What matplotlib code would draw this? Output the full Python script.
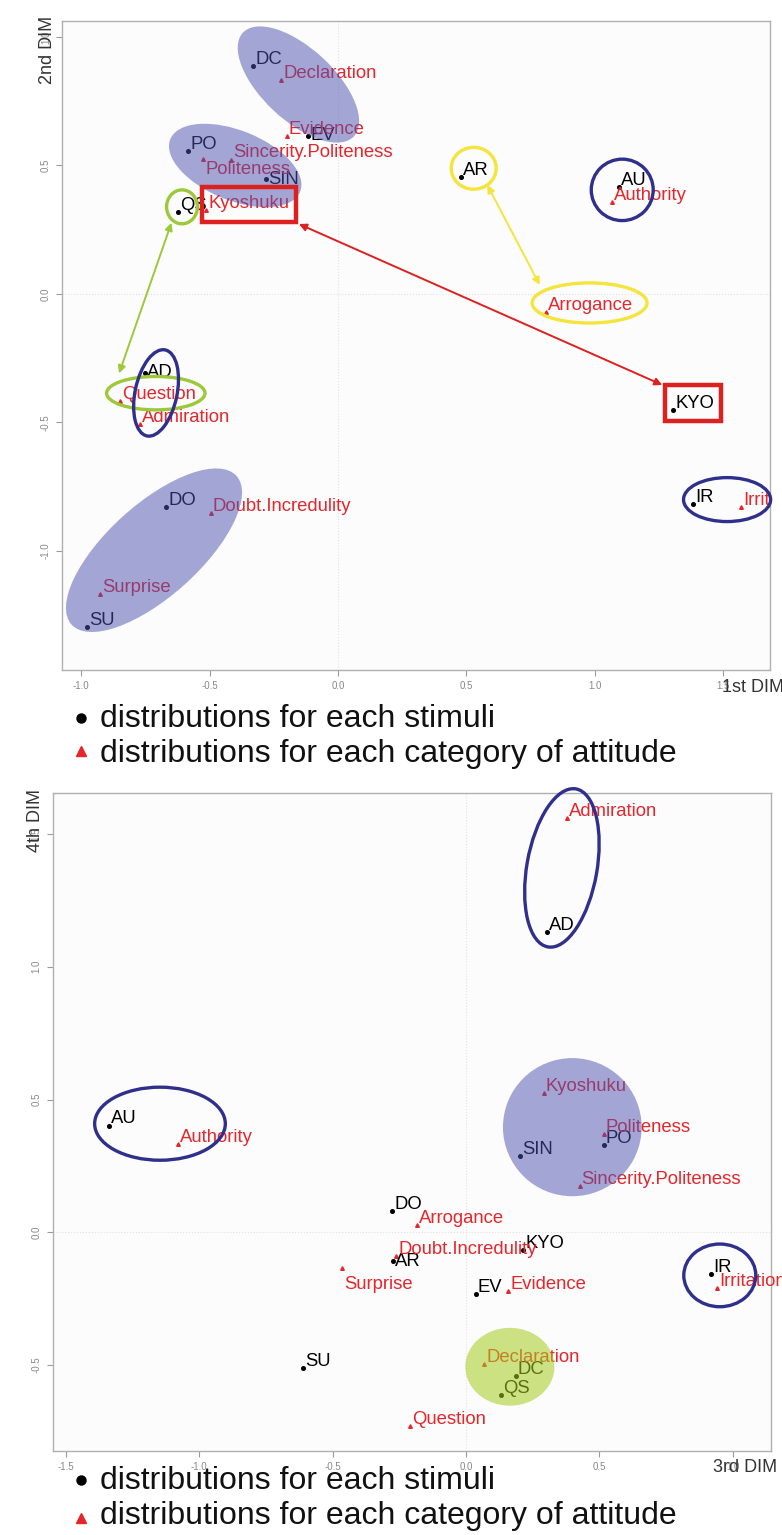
import numpy as np
import matplotlib
matplotlib.use("Agg")
import matplotlib.pyplot as plt
from matplotlib.patches import Ellipse, Rectangle
from matplotlib.lines import Line2D
from matplotlib.transforms import ScaledTranslation

plt.rcParams['font.family'] = ['Liberation Sans', 'DejaVu Sans']

# stimuli and attitude categories (same order in both panels)
stim_names = ['DC', 'EV', 'PO', 'SIN', 'QS', 'AR', 'AU', 'KYO', 'AD', 'DO', 'SU', 'IR']
att_names = ['Declaration', 'Evidence', 'Politeness', 'Sincerity.Politeness', 'Kyoshuku',
             'Authority', 'Arrogance', 'Question', 'Admiration', 'Doubt.Incredulity',
             'Surprise', 'Irritation']

# panel 1: 1st / 2nd dimension
stim_dim1 = [-0.330, -0.117, -0.582, -0.281, -0.623, 0.477, 1.093, 1.305, -0.751, -0.668, -0.975, 1.381]
stim_dim2 = [0.887, 0.615, 0.556, 0.446, 0.320, 0.454, 0.416, -0.451, -0.306, -0.830, -1.295, -0.817]
att_dim1 = [-0.221, -0.200, -0.525, -0.416, -0.512, 1.065, 0.808, -0.849, -0.770, -0.495, -0.926, 1.567]
att_dim2 = [0.833, 0.616, 0.524, 0.523, 0.327, 0.359, -0.069, -0.415, -0.507, -0.853, -1.167, -0.828]

# panel 2: 3rd / 4th dimension
stim_dim3 = [0.187, 0.037, 0.516, 0.202, 0.131, -0.272, -1.340, 0.216, 0.304, -0.276, -0.611, 0.919]
stim_dim4 = [-0.541, -0.233, 0.327, 0.289, -0.613, -0.109, 0.402, -0.068, 1.132, 0.080, -0.512, -0.158]
att_dim3 = [0.069, 0.159, 0.516, 0.426, 0.292, -1.078, -0.184, -0.210, 0.379, -0.262, -0.463, 0.943]
att_dim4 = [-0.496, -0.221, 0.371, 0.173, 0.524, 0.333, 0.026, -0.729, 1.559, -0.090, -0.133, -0.209]

ticks_top_x = [-1.0, -0.5, 0.0, 0.5, 1.0, 1.5]
ticks_top_y = [-1.0, -0.5, 0.0, 0.5, 1.0]
ticks_bot_x = [-1.5, -1.0, -0.5, 0.0, 0.5, 1.0]
ticks_bot_y = [-0.5, 0.0, 0.5, 1.0, 1.5]

RED = '#e5262b'
NAVY = '#2f2f8c'
LIME = '#9cc83a'
YELLOW = '#f4e43c'
BOXRED = '#dd2020'
FILL = (75 / 255, 81 / 255, 175 / 255, 0.5)
GFILL = (165 / 255, 205 / 255, 30 / 255, 0.55)


def base_axes(ax, xlim, ylim, xt, yt):
    ax.set_xlim(*xlim)
    ax.set_ylim(*ylim)
    ax.set_facecolor('#fcfcfc')
    ax.set_xticks(xt)
    ax.set_yticks(yt)
    ax.set_xticklabels(['%.1f' % t for t in xt])
    ax.set_yticklabels(['%.1f' % t for t in yt], rotation=90, va='center')
    ax.tick_params(direction='out', length=4, width=0.8, color='#999999',
                   labelsize=7, labelcolor='#888888', pad=4)
    for s in ax.spines.values():
        s.set_color('#b0b0b0')
        s.set_linewidth(1.0)
    ax.axhline(0, color='#e2e2e2', lw=0.8, ls=':', zorder=0)
    ax.axvline(0, color='#e2e2e2', lw=0.8, ls=':', zorder=0)


def draw_points(ax, sx, sy, tx, ty, valign, clip):
    ax.plot(sx, sy, 'o', color='black', ms=2.6, zorder=3)
    ax.plot(tx, ty, '^', color=RED, ms=2.6, zorder=3)
    labels = list(zip(stim_names, sx, sy, ['black'] * 12)) + \
        list(zip(att_names, tx, ty, [RED] * 12))
    for lab, x, y, c in labels:
        va = valign.get(lab, 'baseline')
        dy = {'baseline': 1.5, 'center': 0, 'top': -1.5}[va]
        if lab == 'Surprise' and va == 'top':
            dy = -6
        off = ScaledTranslation(1.5 / 72, dy / 72, fig.dpi_scale_trans)
        ax.text(x, y, lab, transform=ax.transData + off, ha='left', va=va,
                fontsize=13.3, color=c, zorder=3, clip_on=clip)


def ell(ax, c, w, h, ang=0, edge=None, face='none', lw=2.4):
    ax.add_patch(Ellipse(c, w, h, angle=ang, facecolor=face,
                         edgecolor=edge if edge else 'none', lw=lw, zorder=5,
                         clip_on=False))


def arrow(ax, a, b, col):
    ax.annotate('', xy=b, xytext=a,
                arrowprops=dict(arrowstyle='<|-|>', color=col, lw=1.4,
                                mutation_scale=11, shrinkA=0, shrinkB=0), zorder=6)


fig = plt.figure(figsize=(7.82, 15.35), dpi=100)
fig.patch.set_facecolor('white')

# ---------- top panel ----------
ax1 = fig.add_axes([62 / 782, 1 - 670 / 1535, 708 / 782, 649 / 1535])
base_axes(ax1, (-1.074, 1.681), (-1.463, 1.062), ticks_top_x, ticks_top_y)
draw_points(ax1, stim_dim1, stim_dim2, att_dim1, att_dim2,
            {'EV': 'center', 'SIN': 'center', 'Politeness': 'top', 'AD': 'center'}, True)

ell(ax1, (-0.154, 0.815), 0.591, 0.280, -43, face=FILL)
ell(ax1, (-0.400, 0.500), 0.545, 0.272, -22, face=FILL)
ell(ax1, (-0.716, -0.997), 0.864, 0.358, 42, face=FILL)
ell(ax1, (-0.607, 0.339), 0.120, 0.132, edge=LIME)
ell(ax1, (0.528, 0.489), 0.175, 0.163, edge=YELLOW)
ell(ax1, (1.106, 0.405), 0.241, 0.239, edge=NAVY)
ell(ax1, (0.979, -0.035), 0.447, 0.156, edge=YELLOW)
ell(ax1, (-0.709, -0.386), 0.383, 0.130, edge=LIME)
ell(ax1, (-0.708, -0.385), 0.342, 0.163, 78, edge=NAVY)
ell(ax1, (1.514, -0.800), 0.339, 0.171, edge=NAVY)
ax1.add_patch(Rectangle((-0.528, 0.281), 0.363, 0.137, fill=False,
                        edgecolor=BOXRED, lw=3.2, zorder=5))
ax1.add_patch(Rectangle((1.271, -0.493), 0.218, 0.139, fill=False,
                        edgecolor=BOXRED, lw=3.2, zorder=5))
arrow(ax1, (-0.648, 0.277), (-0.852, -0.309), LIME)
arrow(ax1, (0.581, 0.424), (0.785, 0.035), YELLOW)
arrow(ax1, (-0.152, 0.272), (1.262, -0.354), BOXRED)

fig.text(47 / 782, 1 - 50 / 1535, '2nd DIM', rotation=90, ha='center', va='center',
         fontsize=13, color='#333333')
fig.text(722 / 782, 1 - 688 / 1535, '1st DIM', ha='left', va='center',
         fontsize=13, color='#333333')

# ---------- bottom panel ----------
ax2 = fig.add_axes([52.5 / 782, 1 - 1450.7 / 1535, 718.5 / 782, 657.7 / 1535])
base_axes(ax2, (-1.55, 1.144), (-0.822, 1.654), ticks_bot_x, ticks_bot_y)
draw_points(ax2, stim_dim3, stim_dim4, att_dim3, att_dim4,
            {'AR': 'center', 'Surprise': 'top'}, False)

ell(ax2, (0.399, 0.396), 0.52, 0.52, face=FILL)
ell(ax2, (0.165, -0.506), 0.334, 0.293, face=GFILL)
ell(ax2, (0.36, 1.372), 0.604, 0.263, 80, edge=NAVY)
ell(ax2, (-1.147, 0.409), 0.49, 0.275, edge=NAVY)
ell(ax2, (0.952, -0.162), 0.27, 0.236, edge=NAVY)

fig.text(35 / 782, 1 - 820 / 1535, '4th DIM', rotation=90, ha='center', va='center',
         fontsize=13, color='#333333')
fig.text(713 / 782, 1 - 1467 / 1535, '3rd DIM', ha='left', va='center',
         fontsize=13, color='#333333')

# ---------- legend text ----------
for yb, yd, yt in [(727, 718, 751), (1489, 1480, 1518)]:
    fig.add_artist(Line2D([81 / 782], [1 - yd / 1535], marker='o', color='black',
                          ms=6.5, transform=fig.transFigure))
    fig.add_artist(Line2D([81 / 782], [1 - yt / 1535], marker='^', color=RED,
                          ms=6.5, transform=fig.transFigure))
    fig.text(100 / 782, 1 - yb / 1535, 'distributions for each stimuli',
             ha='left', va='baseline', fontsize=23, color='#111111')
    fig.text(100 / 782, 1 - (yb + 35) / 1535, 'distributions for each category of attitude',
             ha='left', va='baseline', fontsize=23, color='#111111')

fig.savefig('out.png', dpi=100)
